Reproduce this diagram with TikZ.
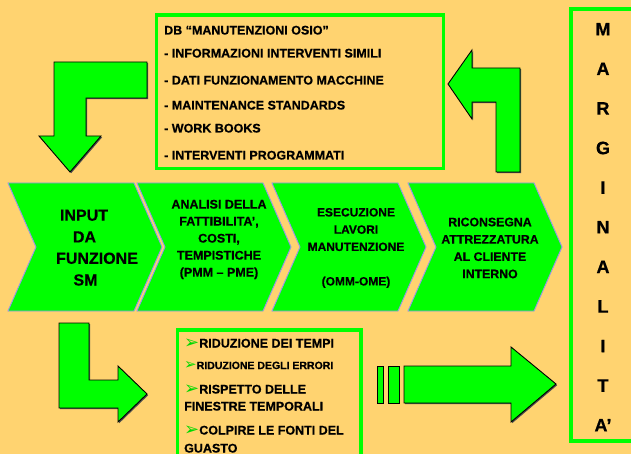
\documentclass[tikz,border=0pt]{standalone}
\usepackage{fontspec}
\setmainfont{Liberation Sans}[BoldFeatures={FakeBold=0.6}]
\newfontfamily\dejavu{DejaVu Sans}
\usetikzlibrary{shadows}
\definecolor{bg}{RGB}{255,211,112}
\definecolor{grn}{RGB}{0,255,0}
\definecolor{chevline}{RGB}{150,150,235}
\newcommand\bul[1][18]{{\dejavu\fontsize{#1}{#1}\selectfont\color{grn!85!black}\raisebox{-0.5pt}{➢}}}
\begin{document}
\begin{tikzpicture}[x=1pt,y=-1pt,
  chev/.style={fill=grn, draw=chevline, line width=0.9pt},
  arr/.style={fill=grn, draw=black, line width=0.9pt,
    drop shadow={shadow xshift=1.2pt, shadow yshift=-1.2pt, opacity=1, fill=black!70}},
  frame/.style={draw=grn, line width=3.5pt},
  lbl/.style={inner sep=0pt, align=center},
  big/.style={inner sep=0pt, anchor=base, font=\bfseries\fontsize{16}{20}\selectfont},
  line/.style={inner sep=0pt, anchor=base west, font=\bfseries\fontsize{12.5}{15}\selectfont},
  mletter/.style={inner sep=0pt, anchor=base, font=\bfseries\fontsize{18}{20}\selectfont}]
\useasboundingbox (0,0) rectangle (631,454);
\fill[bg] (0,0) rectangle (631,454);
\clip (0,0) rectangle (631,454);

% frames
\draw[frame] (156.5,15) rectangle (443.5,168.5);
\draw[frame] (571,9) rectangle (660,441);
\draw[frame] (177.5,330) rectangle (361,480);

% chevrons
\foreach \x in {8,137,272,408}
  \draw[chev] (\x,183) -- ++(126,0) -- ++(28,64) -- ++(-28,64) -- ++(-126,0) -- ++(28,-64) -- cycle;

\node[big] (t1a) at (84,220.7) {INPUT};
\node[big] (t1b) at (84.5,242.4) {DA};
\node[big] (t1c) at (97,263.8) {FUNZIONE};
\node[big] (t1d) at (85.5,285.5) {SM};
\node[lbl, font=\bfseries\fontsize{12.5}{17}\selectfont] (t2) at (219,239.5) {ANALISI DELLA\\FATTIBILITA’,\\COSTI,\\TEMPISTICHE\\(PMM – PME)};
\node[lbl, font=\bfseries\fontsize{12}{17.25}\selectfont] (t3) at (356,248) {ESECUZIONE\\LAVORI\\MANUTENZIONE\\\mbox{}\\(OMM-OME)};
\node[lbl, font=\bfseries\fontsize{12.3}{17.3}\selectfont] (t4) at (490,248) {RICONSEGNA\\ATTREZZATURA\\AL CLIENTE\\INTERNO};

% top box text
\node[line] (db) at (164,34.5) {DB “MANUTENZIONI OSIO”};
\node[line] (d1) at (164,57.5) {- INFORMAZIONI INTERVENTI SIMILI};
\node[line] (d2) at (164,84.5) {- DATI FUNZIONAMENTO MACCHINE};
\node[line] (d3) at (164,109.5) {- MAINTENANCE STANDARDS};
\node[line] (d4) at (164,132.5) {- WORK BOOKS};
\node[line] (d5) at (164,159.5) {- INTERVENTI PROGRAMMATI};

% bottom box text
\node[line] (b1) at (184,347.5) {\bul RIDUZIONE DEI TEMPI};
\node[line, font=\bfseries\fontsize{10.5}{12}\selectfont] (b2) at (184,369) {\bul[15]RIDUZIONE DEGLI ERRORI};
\node[line] (b3) at (184,393.5) {\bul RISPETTO DELLE};
\node[line] (b4) at (184,410.5) {FINESTRE TEMPORALI};
\node[line] (b5) at (184,434.5) {\bul COLPIRE LE FONTI DEL};
\node[line] (b6) at (184,452.5) {GUASTO};

% MARGINALITA'
\foreach \l [count=\i from 0] in {M,A,R,G,I,N,A,L,I,T,A’}
  \node[mletter] (m\i) at (603,{35.4+39.6*\i}) {\l};

% arrows
\draw[arr] (54,62) -- (147,62) -- (147,98) -- (86,98) -- (86,136) -- (101,136) -- (70,172) -- (39,136) -- (54,136) -- cycle;
\draw[arr] (448,84) -- (472,50) -- (472,68) -- (520,68) -- (520,172) -- (496,172) -- (496,102) -- (472,102) -- (472,119) -- cycle;
\draw[arr] (59,323) -- (89,323) -- (89,380) -- (118,380) -- (118,366) -- (147,394) -- (118,422) -- (118,408) -- (59,408) -- cycle;
\draw[arr] (377,366) rectangle (383,403);
\draw[arr] (388,366) rectangle (399,403);
\draw[arr] (404,366) -- (511,366) -- (511,347) -- (556,384) -- (511,422) -- (511,403) -- (404,403) -- cycle;
\end{tikzpicture}
\end{document}
